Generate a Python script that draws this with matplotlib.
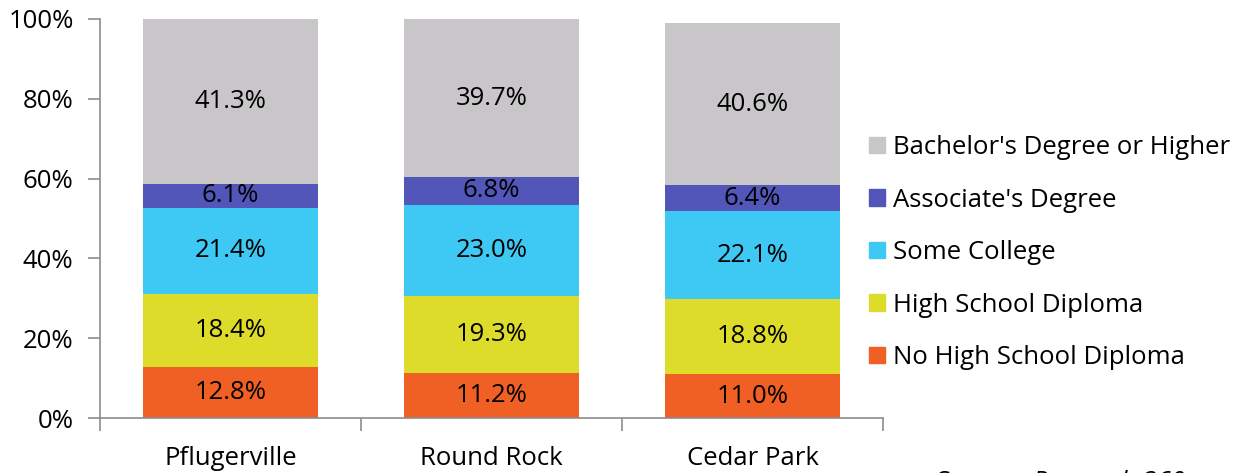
import numpy as np
import matplotlib.pyplot as plt
from matplotlib.patches import Patch

plt.rcParams['font.family'] = ['Open Sans', 'DejaVu Sans']

cities = ['Pflugerville', 'Round Rock', 'Cedar Park']
series = ['No High School Diploma', 'High School Diploma', 'Some College',
          "Associate's Degree", "Bachelor's Degree or Higher"]
no_hs = [12.8, 11.2, 11.0]
hs = [18.4, 19.3, 18.8]
some_col = [21.4, 23.0, 22.1]
assoc = [6.1, 6.8, 6.4]
bach = [41.3, 39.7, 40.6]
colors = ['#F05F24', '#DEDC2A', '#3EC8F4', '#5256B8', '#C8C6C8']

values = [no_hs, hs, some_col, assoc, bach]
fs = 18.5

fig = plt.figure(figsize=(12.39, 4.73), dpi=100)
ax = fig.add_axes([100 / 1239, 55 / 473, 783 / 1239, 399 / 473])

x = np.arange(len(cities))
bottom = np.zeros(len(cities))
for vals, col in zip(values, colors):
    vals = np.array(vals)
    ax.bar(x, vals, 0.667, bottom=bottom, color=col)
    for xi, b, v in zip(x, bottom, vals):
        ax.text(xi, b + v / 2, f'{v:.1f}%', ha='center', va='center',
                fontsize=fs, color='black')
    bottom += vals

ax.set_xlim(-0.5, 2.5)
ax.set_ylim(0, 100)
ax.set_yticks(range(0, 101, 20))
ax.set_yticklabels([f'{t}%' for t in range(0, 101, 20)], fontsize=fs)
ax.set_xticks([-0.5, 0.5, 1.5, 2.5])
ax.set_xticklabels([])
ax.set_xticks(x, minor=True)
ax.set_xticklabels(cities, minor=True, fontsize=fs)
ax.tick_params(axis='x', which='minor', length=0, pad=20)
ax.tick_params(axis='x', which='major', length=9, color='#8c8c8c', width=1.2)
ax.tick_params(axis='y', length=9, color='#8c8c8c', width=1.2, pad=10)
for s in ['top', 'right']:
    ax.spines[s].set_visible(False)
for s in ['left', 'bottom']:
    ax.spines[s].set_color('#8c8c8c')
    ax.spines[s].set_linewidth(1.2)

handles = [Patch(color=c, label=l) for c, l in zip(colors[::-1], series[::-1])]
fig.legend(handles=handles, loc='upper left', bbox_to_anchor=(846 / 1239, 1 - 112 / 473),
           frameon=False, fontsize=fs, handlelength=0.62, handleheight=0.62,
           handletextpad=0.3, labelspacing=1.07)

src = fig.text(937 / 1239, 1 - 489 / 473, 'Source: ', fontsize=fs, va='baseline')
ax.annotate('Research 360', xy=(1, 0), xycoords=src, fontsize=fs, style='italic',
            ha='left', va='bottom', annotation_clip=False)

fig.savefig('out.png', dpi=100)
